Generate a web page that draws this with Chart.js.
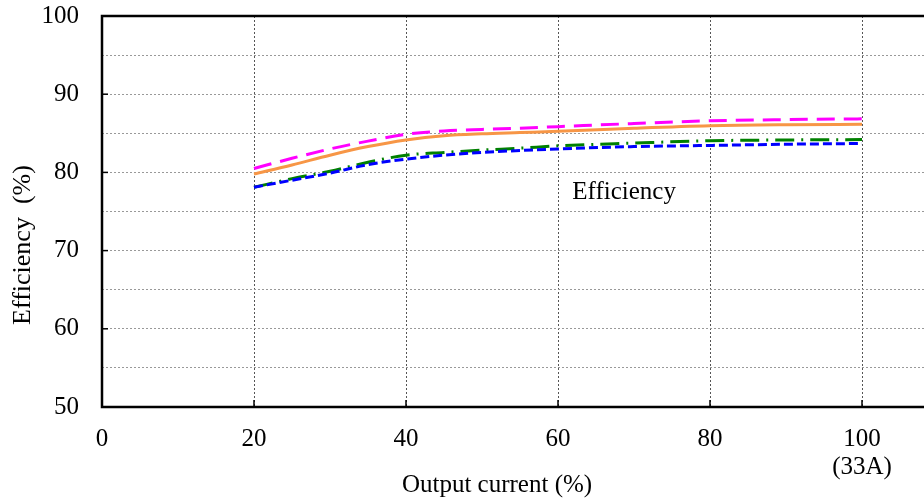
<!DOCTYPE html>
<html><head><meta charset="utf-8">
<script src="https://cdn.jsdelivr.net/npm/chart.js@4"></script>
<style>html,body{margin:0;padding:0;overflow:hidden;background:#fff;width:924px;height:503px}canvas{display:block}</style>
</head><body>
<canvas id="c" width="1040" height="503"></canvas>
<script>
const currentPct = [20,25,30,35,40,45,50,55,60,70,80,90,100];
const effMagenta = [80.5,81.8,83.0,84.0,84.87,85.3,85.5,85.65,85.85,86.25,86.6,86.75,86.85];
const effOrange  = [79.8,80.95,82.2,83.3,84.15,84.7,84.95,85.1,85.25,85.65,85.97,86.1,86.15];
const effGreen   = [78.1,79.2,80.15,81.3,82.2,82.55,82.85,83.1,83.4,83.75,84.05,84.15,84.2];
const effBlue    = [78.1,79.0,79.9,81.0,81.7,82.2,82.55,82.8,83.0,83.3,83.45,83.6,83.7];
const xTicks = [0,20,40,60,80,100];
const xTickText = ['0','20','40','60','80',['100','(33A)']];
const yTicks = [50,60,70,80,90,100];
const yTitle = 'Efficiency  (%)';
const xTitle = 'Output current (%)';
const noteText = 'Efficiency';
const notePos = {x:68.7, y:77.5};

const FONT = "'Liberation Serif', 'Times New Roman', serif";
const pts = arr => currentPct.map((x,i)=>({x, y:arr[i]}));

const framePlugin = {
  id:'frame',
  afterDatasetsDraw(chart){
    const {ctx, chartArea:a, scales:{x, y}} = chart;
    ctx.save();
    ctx.strokeStyle = '#000';
    ctx.lineWidth = 1.5;
    ctx.setLineDash([]);
    yTicks.forEach(v=>{ const py=y.getPixelForValue(v); ctx.beginPath(); ctx.moveTo(a.left,py); ctx.lineTo(a.left+6,py); ctx.stroke(); });
    xTicks.forEach(v=>{ const px=x.getPixelForValue(v); ctx.beginPath(); ctx.moveTo(px,a.bottom); ctx.lineTo(px,a.bottom-7); ctx.stroke(); });
    ctx.lineWidth = 2.5;
    ctx.beginPath();
    ctx.moveTo(a.right+5, a.top); ctx.lineTo(a.left, a.top); ctx.lineTo(a.left, a.bottom); ctx.lineTo(a.right+5, a.bottom);
    ctx.stroke();
    ctx.fillStyle = '#000';
    ctx.font = '25px ' + FONT;
    ctx.textAlign = 'center'; ctx.textBaseline = 'middle';
    ctx.fillText(noteText, x.getPixelForValue(notePos.x), y.getPixelForValue(notePos.y));
    ctx.fillText(xTitle, 497, 485);
    ctx.font = '26px ' + FONT;
    ctx.translate(23, 245);
    ctx.rotate(-Math.PI/2);
    ctx.fillText(yTitle, 0, 0);
    ctx.restore();
  }
};

function noPad(s){ s.paddingTop = 0; s.paddingBottom = 0; s.paddingLeft = 0; s.paddingRight = 0; }

new Chart(document.getElementById('c'), {
  type:'line',
  data:{ datasets:[
    {label:'A', data:pts(effBlue), borderColor:'#0000ff', borderWidth:3, borderDash:[9,4]},
    {label:'B', data:pts(effGreen), borderColor:'#008000', borderWidth:3, borderDash:[19,7,2,7]},
    {label:'C', data:pts(effOrange), borderColor:'#f79646', borderWidth:3},
    {label:'D', data:pts(effMagenta), borderColor:'#ff00ff', borderWidth:3, borderDash:[18,9]},
  ]},
  options:{
    responsive:false, animation:false,
    layout:{padding:{top:16, right:26, left:0, bottom:0}},
    elements:{point:{radius:0}, line:{cubicInterpolationMode:'monotone', fill:false}},
    plugins:{legend:{display:false}, tooltip:{enabled:false}},
    scales:{
      x:{type:'linear', min:0, max:120,
        afterFit(s){ s.height = 96; noPad(s); },
        border:{display:false, dash:[2,2]},
        grid:{color:'#555', lineWidth:1, drawTicks:false},
        ticks:{stepSize:20, padding:18, color:'#000', maxRotation:0, autoSkip:false,
          font:{family:FONT, size:25, lineHeight:1.12},
          callback(v){ const i = xTicks.indexOf(v); return i>=0 ? xTickText[i] : ''; }}
      },
      y:{type:'linear', min:50, max:100,
        afterFit(s){ s.width = 102; noPad(s); },
        border:{display:false, dash:[2,2]},
        grid:{color:'#999', lineWidth:1, drawTicks:false},
        ticks:{stepSize:5, padding:23, color:'#000',
          font:{family:FONT, size:25},
          callback(v){ return yTicks.includes(v) ? String(v) : ''; }}
      }
    }
  },
  plugins:[framePlugin]
});
</script>
</body></html>
